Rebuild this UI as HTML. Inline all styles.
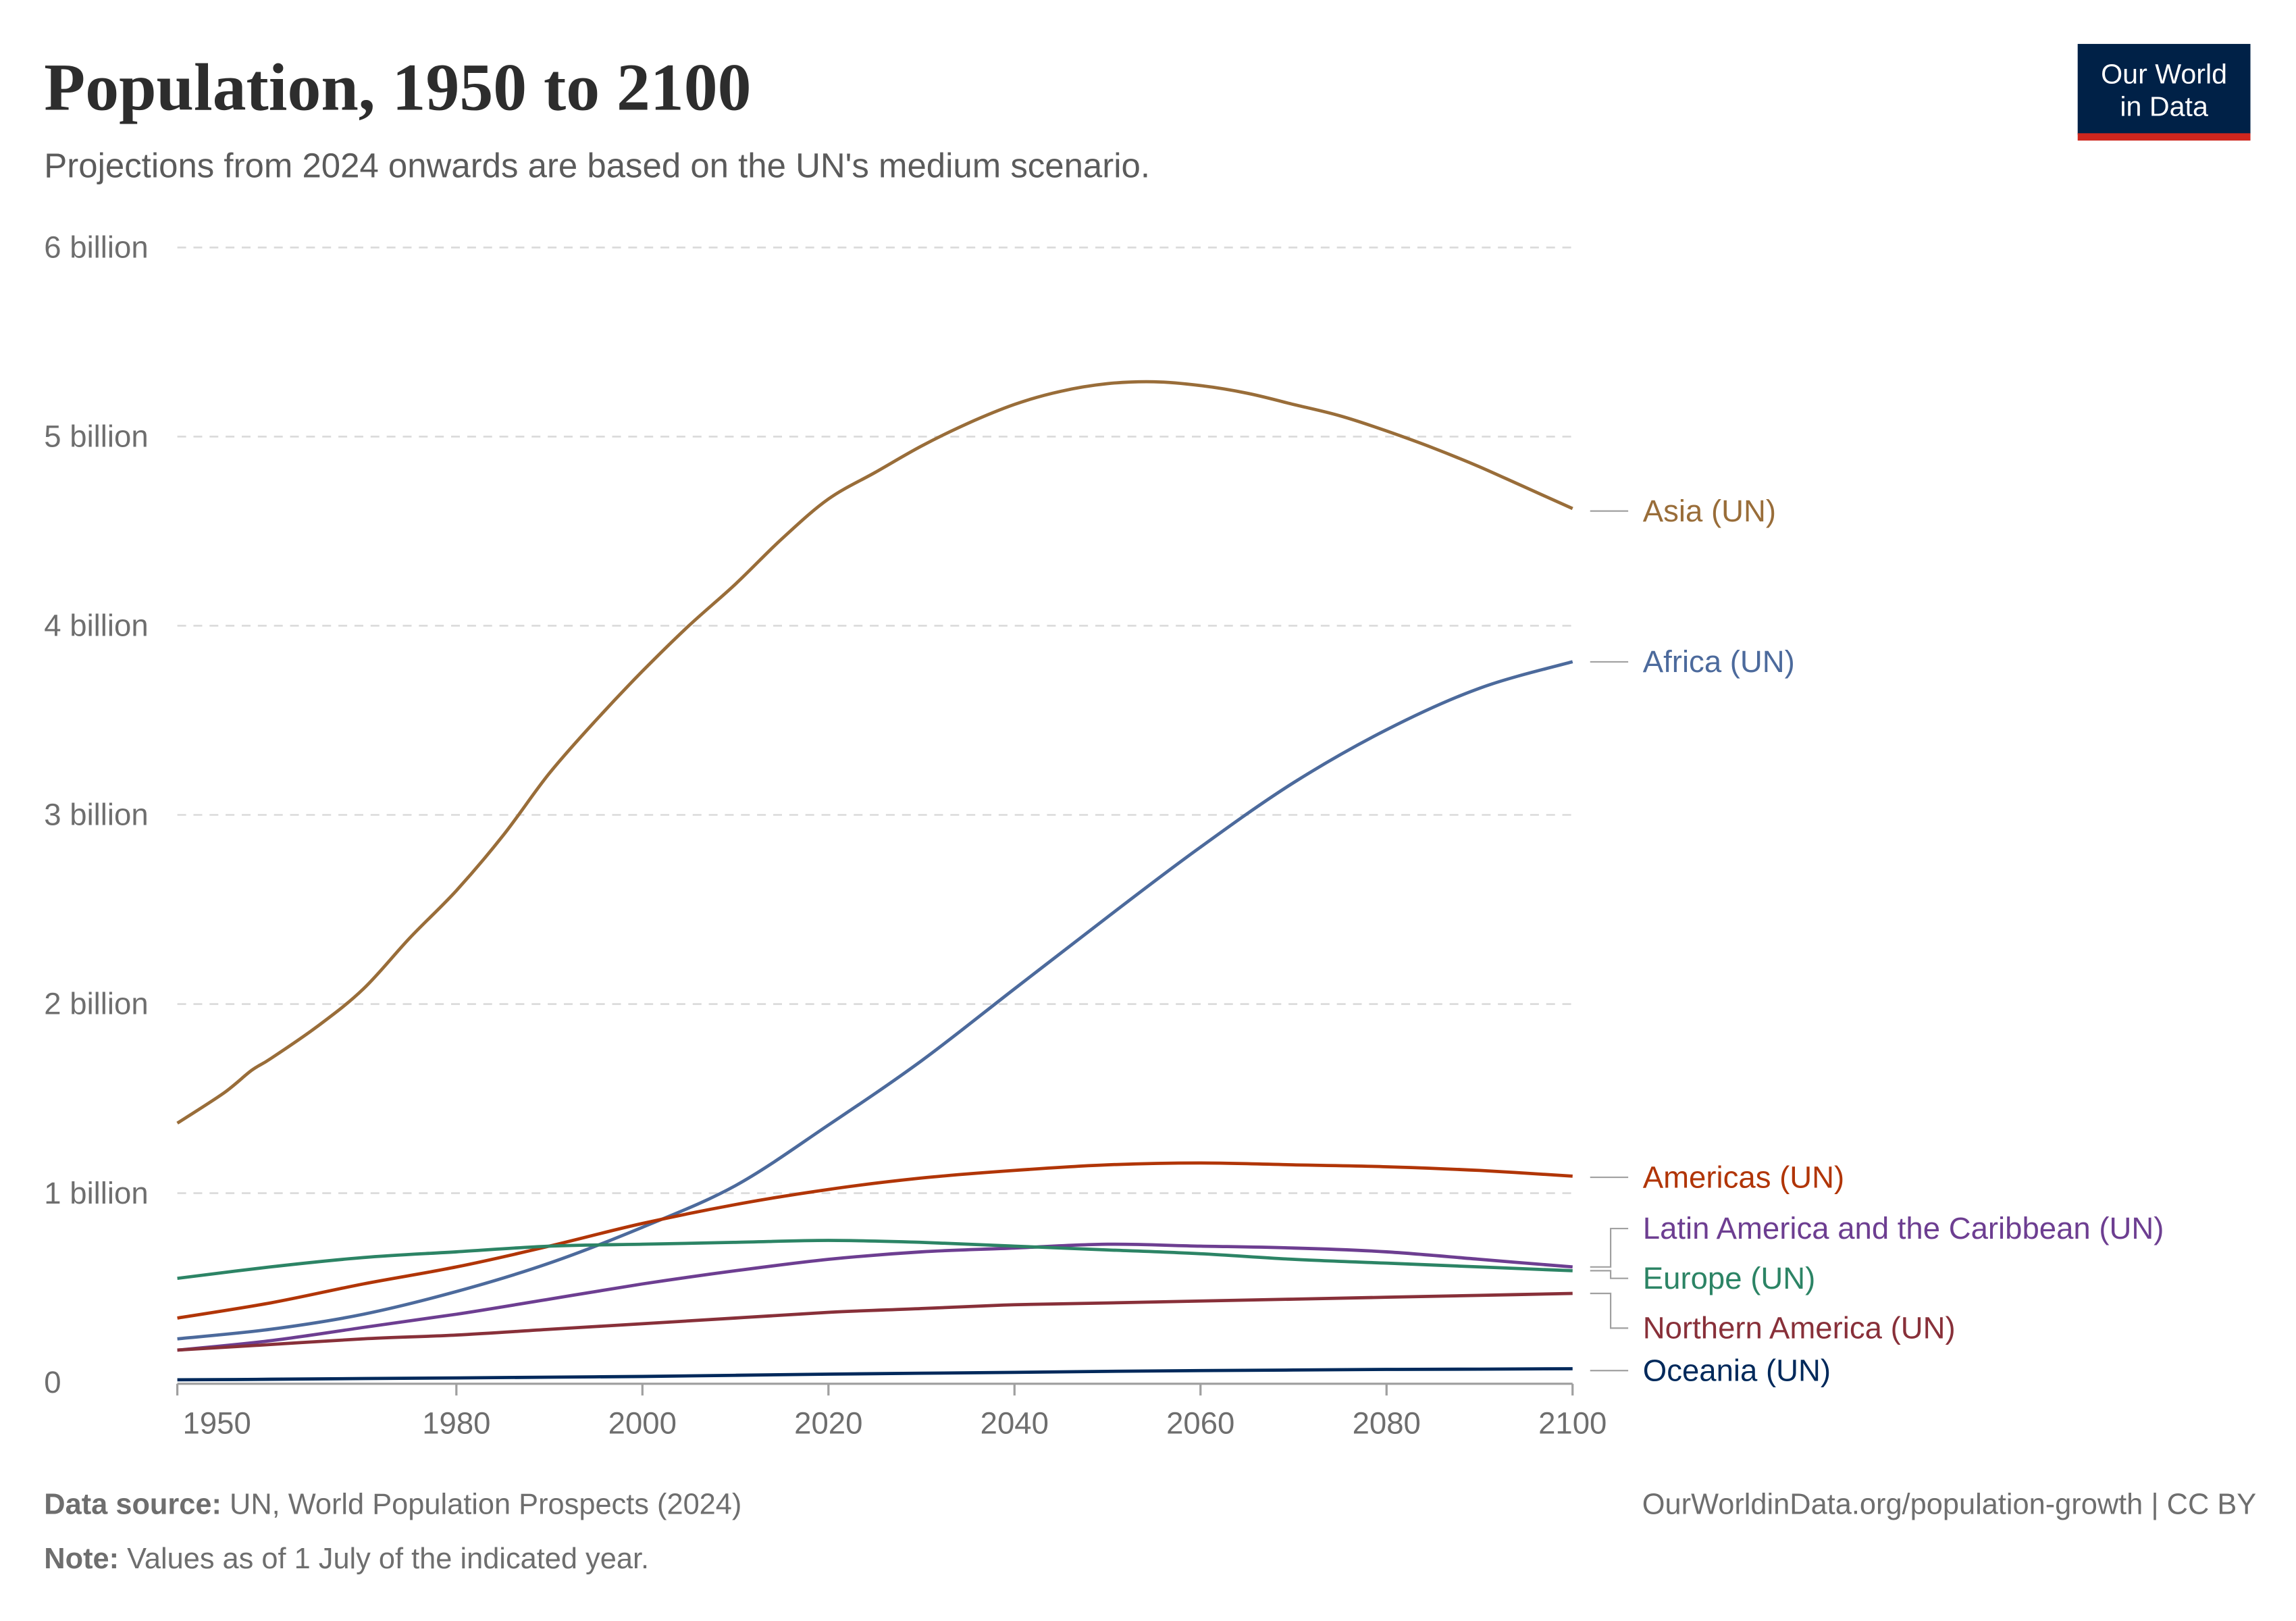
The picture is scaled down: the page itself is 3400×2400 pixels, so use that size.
<!DOCTYPE html>
<html><head><meta charset="utf-8"><style>
html,body{margin:0;padding:0;background:#fff}
svg{display:block}
text{font-family:"Liberation Sans",sans-serif}
</style></head><body>
<svg id="chart" width="3400" height="2400" viewBox="0 0 1568 1107" xmlns="http://www.w3.org/2000/svg">
<text x="30" y="75" style="font-family:'Liberation Serif',serif;font-weight:bold" font-size="46" fill="#2d2d2d">Population, 1950 to 2100</text>
<text x="30" y="121" font-size="23.5" fill="#5b5b5b">Projections from 2024 onwards are based on the UN's medium scenario.</text>
<g>
<rect x="1419" y="30" width="118" height="62" fill="#002147"/>
<rect x="1419" y="91" width="118" height="5" fill="#ce261e"/>
<text x="1478" y="57" text-anchor="middle" font-size="19" fill="#fff">Our World</text>
<text x="1478" y="79" text-anchor="middle" font-size="19" fill="#fff">in Data</text>
</g>
<g id="grid"></g>
<g id="xaxis"></g>
<g id="series"></g>
<g id="labels"></g>
<text x="30" y="1034" font-size="20" fill="#6e6e6e"><tspan font-weight="bold">Data source:</tspan> UN, World Population Prospects (2024)</text>
<text x="30" y="1071" font-size="20" fill="#6e6e6e"><tspan font-weight="bold">Note:</tspan> Values as of 1 July of the indicated year.</text>
<text x="1541" y="1034" text-anchor="end" font-size="20" fill="#6e6e6e">OurWorldinData.org/population-growth | CC BY</text>
</svg>
<script>
const years10=[1950,1960,1970,1980,1990,2000,2010,2020,2030,2040,2050,2060,2070,2080,2090,2100];
const years5=[1950,1955,1958,1960,1965,1970,1975,1980,1985,1990,1995,2000,2005,2010,2015,2020,2025,2030,2035,2040,2045,2050,2055,2060,2065,2070,2075,2080,2085,2090,2095,2100];
const asia=[1.37,1.53,1.65,1.71,1.88,2.08,2.35,2.60,2.89,3.22,3.50,3.76,4.00,4.22,4.46,4.67,4.81,4.95,5.07,5.17,5.24,5.28,5.29,5.27,5.23,5.17,5.11,5.03,4.94,4.84,4.73,4.62];
const africa=[0.23,0.28,0.36,0.48,0.63,0.82,1.04,1.36,1.70,2.08,2.46,2.83,3.17,3.45,3.67,3.81];
const americas=[0.34,0.42,0.52,0.61,0.72,0.84,0.94,1.02,1.08,1.12,1.15,1.16,1.15,1.14,1.12,1.09];
const latam=[0.17,0.22,0.29,0.36,0.44,0.52,0.59,0.65,0.69,0.71,0.73,0.72,0.71,0.69,0.65,0.61];
const europe=[0.55,0.61,0.66,0.69,0.72,0.73,0.74,0.75,0.74,0.72,0.70,0.68,0.65,0.63,0.61,0.59];
const namerica=[0.17,0.20,0.23,0.25,0.28,0.31,0.34,0.37,0.39,0.41,0.42,0.43,0.44,0.45,0.46,0.47];
const oceania=[0.013,0.016,0.02,0.023,0.027,0.031,0.037,0.043,0.048,0.053,0.058,0.062,0.065,0.068,0.07,0.072];
const yTicks=[0,1,2,3,4,5,6];
const yTickLabels=["0","1 billion","2 billion","3 billion","4 billion","5 billion","6 billion"];
const xTicks=[1950,1980,2000,2020,2040,2060,2080,2100];

const NS="http://www.w3.org/2000/svg";
const X=yr=>121+(yr-1950)*(1074-121)/150;
const Y=v=>944-v*(944-169)/6;
function mk(tag,attrs,parent){const e=document.createElementNS(NS,tag);for(const k in attrs)e.setAttribute(k,attrs[k]);parent.appendChild(e);return e;}
function smooth(p){
  let d='M'+p[0][0].toFixed(1)+','+p[0][1].toFixed(1);
  for(let i=0;i<p.length-1;i++){
    const p0=p[i-1]||p[i],p1=p[i],p2=p[i+1],p3=p[i+2]||p2;
    const c1=[p1[0]+(p2[0]-p0[0])/6,p1[1]+(p2[1]-p0[1])/6];
    const c2=[p2[0]-(p3[0]-p1[0])/6,p2[1]-(p3[1]-p1[1])/6];
    d+=' C'+c1.map(v=>v.toFixed(1)).join(',')+' '+c2.map(v=>v.toFixed(1)).join(',')+' '+p2[0].toFixed(1)+','+p2[1].toFixed(1);
  }
  return d;
}
const grid=document.getElementById('grid');
yTicks.forEach((t,i)=>{
  if(t>0){const l=mk('line',{x1:121,x2:1074,y1:Y(t),y2:Y(t),stroke:'#dadada','stroke-dasharray':'6,5','stroke-width':1.2},grid);
  
  }
  const tx=mk('text',{x:30,y:Y(t)+7,'font-size':21,fill:'#6e6e6e'},grid);
  tx.textContent=yTickLabels[i];
  
  
});
const xa=document.getElementById('xaxis');
const ax=mk('line',{x1:121,x2:1074,y1:945,y2:945,stroke:'#a0a0a0','stroke-width':1.5},xa);


xTicks.forEach(t=>{
  const tk=mk('line',{x1:X(t),x2:X(t),y1:945,y2:953,stroke:'#a0a0a0','stroke-width':1.5},xa);
  
  
  const tx=mk('text',{x:t===1950?X(t)+27:X(t),y:979,'text-anchor':'middle','font-size':21,fill:'#6e6e6e'},xa);
  tx.textContent=t;
  
  
});
const S=[
 {n:'asia',yrs:years5,v:asia,c:'#996d39',label:'Asia (UN)',ly:349},
 {n:'africa',yrs:years10,v:africa,c:'#4c6a9c',label:'Africa (UN)',ly:452},
 {n:'americas',yrs:years10,v:americas,c:'#b13507',label:'Americas (UN)',ly:804},
 {n:'latin-america',yrs:years10,v:latam,c:'#6d3e91',label:'Latin America and the Caribbean (UN)',ly:839},
 {n:'europe',yrs:years10,v:europe,c:'#2c8465',label:'Europe (UN)',ly:873},
 {n:'northern-america',yrs:years10,v:namerica,c:'#883039',label:'Northern America (UN)',ly:907},
 {n:'oceania',yrs:years10,v:oceania,c:'#00295b',label:'Oceania (UN)',ly:936}
];
const sg=document.getElementById('series'), lg=document.getElementById('labels');
S.forEach(s=>{
  const pts=s.yrs.map((y,i)=>[X(y),Y(s.v[i])]);
  const pl=mk('path',{d:smooth(pts),fill:'none',stroke:s.c,'stroke-width':2.2,'stroke-linejoin':'round'},sg);
  
  
  const ey=Y(s.v[s.v.length-1]);
  const pts2=Math.abs(ey-s.ly)<4?`1086,${s.ly} 1112,${s.ly}`:`1086,${ey} 1100,${ey} 1100,${s.ly} 1112,${s.ly}`;
  const con=mk('polyline',{points:pts2,fill:'none',stroke:'#a0a0a0','stroke-width':1},lg);
  
  
  const t=mk('text',{x:1122,y:s.ly+7,'font-size':21,fill:s.c},lg);
  t.textContent=s.label;
  
  
});
</script>
</body></html>
